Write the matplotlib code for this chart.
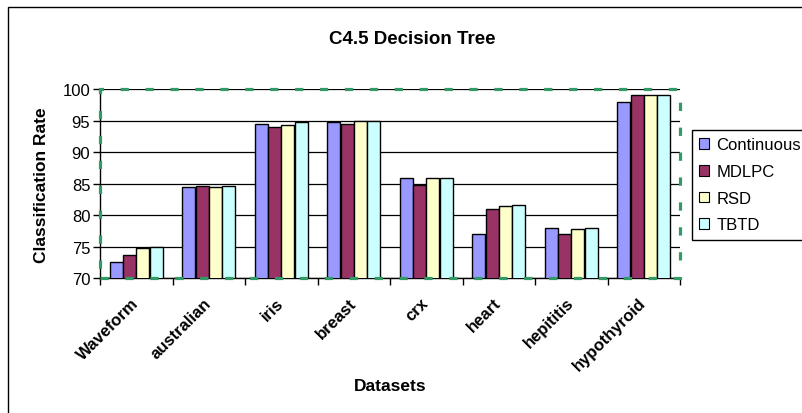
import numpy as np
import matplotlib.pyplot as plt
from matplotlib.patches import Rectangle, Patch

datasets = ['Waveform', 'australian', 'iris', 'breast', 'crx', 'heart', 'hepititis', 'hypothyroid']
methods = ['Continuous', 'MDLPC', 'RSD', 'TBTD']
continuous = [72.5, 84.4, 94.5, 94.7, 85.9, 77.0, 78.0, 98.0]
mdlpc = [73.7, 84.6, 93.9, 94.5, 84.8, 81.0, 77.0, 99.0]
rsd = [74.8, 84.4, 94.3, 95.0, 85.9, 81.4, 77.8, 99.0]
tbtd = [74.9, 84.6, 94.7, 95.0, 85.9, 81.6, 78.0, 99.0]
colors = ['#9999FF', '#993366', '#FFFFCC', '#CCFFFF']

plt.rcParams['font.family'] = ['Liberation Sans', 'DejaVu Sans']

W, H = 803, 414
fig = plt.figure(figsize=(W / 100, H / 100), dpi=100)
ax = fig.add_axes([100 / W, 1 - 279 / H, 580 / W, 189 / H])

x = np.arange(len(datasets))
width = 0.18
step = 0.183
for i, vals in enumerate([continuous, mdlpc, rsd, tbtd]):
    ax.bar(x + (i - 1.5) * step, vals, width, color=colors[i],
           edgecolor='black', linewidth=1, zorder=3)

ax.set_xlim(-0.5, len(datasets) - 0.5)
ax.set_ylim(70, 100)
ax.set_yticks(np.arange(70, 101, 5))
ax.yaxis.grid(True, color='black', linewidth=0.9)
ax.set_axisbelow(True)

# labels at the group centres, tick marks between groups
ax.set_xticks(x)
ax.set_xticks(np.arange(len(datasets) + 1) - 0.5, minor=True)
ax.set_xticklabels(datasets, rotation=45, ha='right', va='center',
                   rotation_mode='anchor', fontweight='bold', fontsize=12)
ax.tick_params(axis='x', which='major', length=0, pad=16)
ax.tick_params(axis='x', which='minor', length=5, width=1, color='black')
ax.tick_params(axis='y', length=5, width=1, labelsize=12, pad=2)

for s in ['top', 'right']:
    ax.spines[s].set_visible(False)
for s in ['left', 'bottom']:
    ax.spines[s].set_color('black')
    ax.spines[s].set_linewidth(1)

# dashed green plot-area border
ax.add_patch(Rectangle((0, 0), 1, 1, transform=ax.transAxes, fill=False,
                       edgecolor='#339966', linewidth=2.3,
                       linestyle=(0, (2.6, 5.2)), clip_on=False, zorder=6))

handles = [Patch(facecolor=c, edgecolor='black', linewidth=0.8) for c in colors]
leg = fig.legend(handles, methods, loc='upper left',
                 bbox_to_anchor=(692 / W, 1 - 131 / H), fontsize=12,
                 frameon=True, fancybox=False, edgecolor='black', framealpha=1,
                 handlelength=0.6, handleheight=0.6, handletextpad=0.4,
                 labelspacing=0.7, borderpad=0.45, borderaxespad=0)
leg.get_frame().set_linewidth(1)

fig.text(412 / W, 1 - 40 / H, 'C4.5 Decision Tree', ha='center', va='center',
         fontsize=13.5, fontweight='bold')
fig.text(42 / W, 1 - 185 / H, 'Classification Rate', ha='center', va='center',
         rotation=90, fontsize=12.5, fontweight='bold')
fig.text(390 / W, 1 - 387 / H, 'Datasets', ha='center', va='center',
         fontsize=12.5, fontweight='bold')

# chart area frame
fig.add_artist(Rectangle((8 / W, -0.1), 1.2, 1.1 - 8 / H, transform=fig.transFigure,
                         fill=False, edgecolor='black', linewidth=1))

fig.savefig('out.png', dpi=100)
